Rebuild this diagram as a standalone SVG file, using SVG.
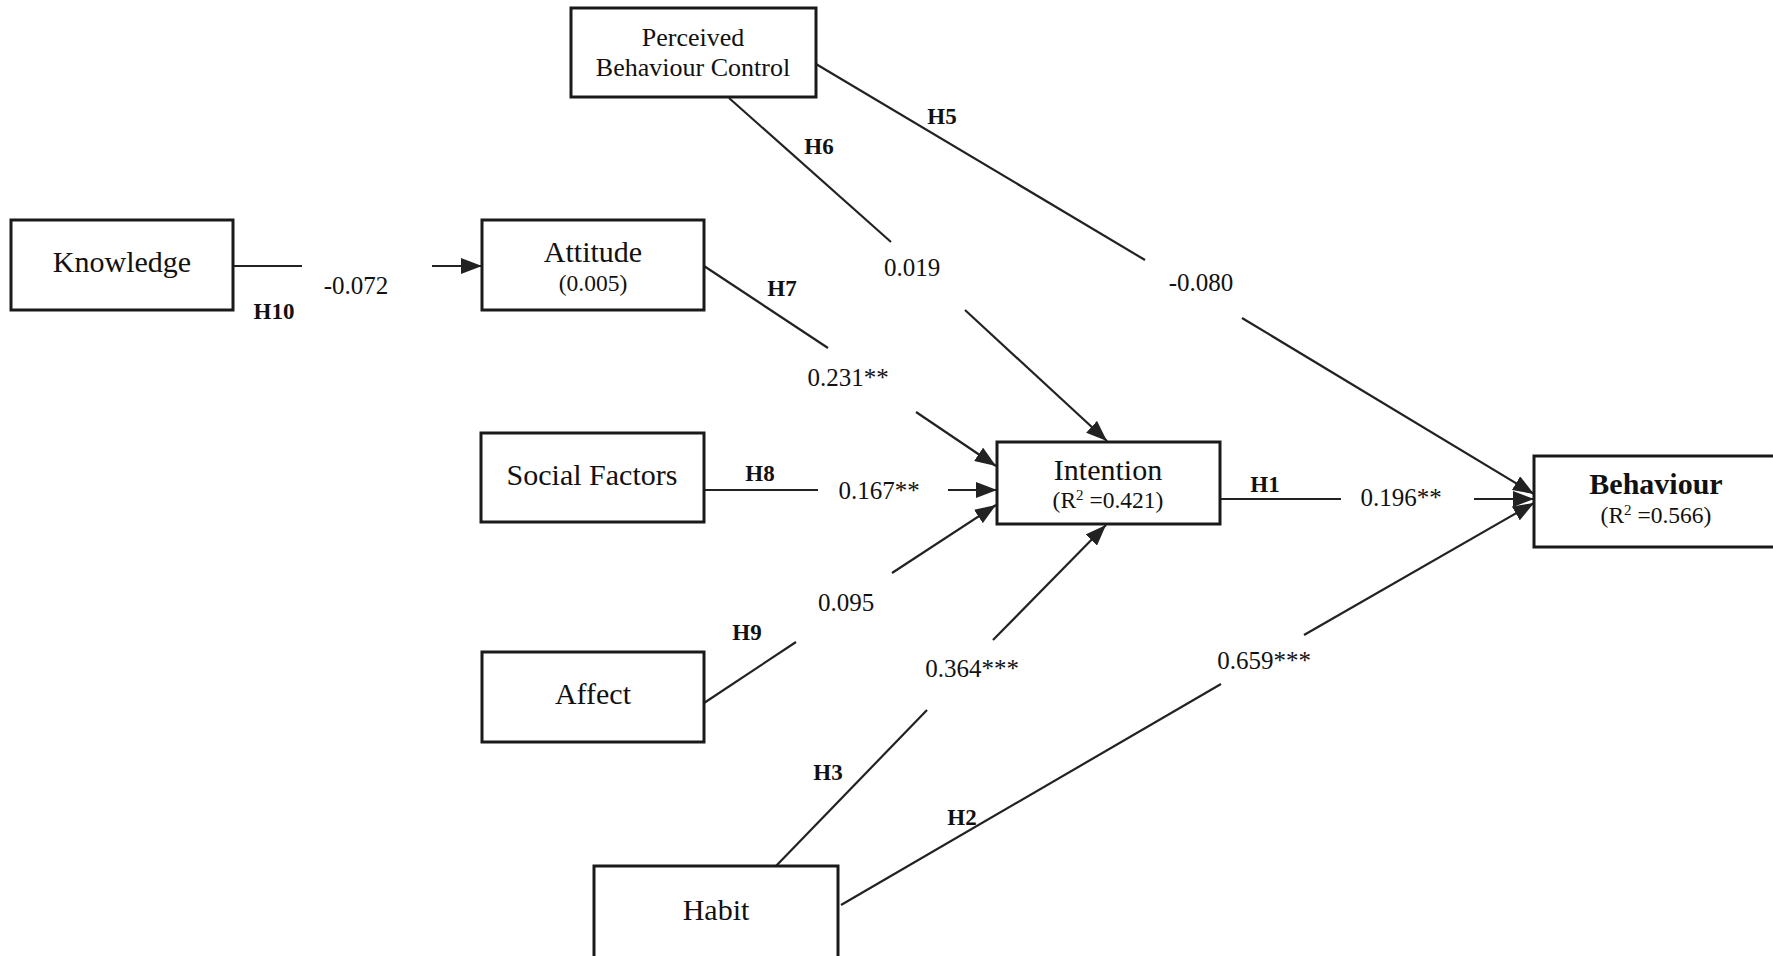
<svg xmlns="http://www.w3.org/2000/svg" width="1773" height="956" viewBox="0 0 1773 956">
  <style>
    .box { fill: #ffffff; stroke: #1a1a1a; stroke-width: 3; }
    .lbl { font-family: "Liberation Serif", "Times New Roman", serif; fill: #111; text-anchor: middle; }
    .main { font-size: 30px; }
    .pbc { font-size: 26px; }
    .sub { font-size: 23.5px; }
    .bold { font-weight: bold; }
    .coef { font-family: "Liberation Serif", "Times New Roman", serif; font-size: 25px; fill: #111; text-anchor: middle; }
    .hyp { font-family: "Liberation Serif", "Times New Roman", serif; font-size: 23px; font-weight: bold; fill: #111; text-anchor: middle; }
    .edge { stroke: #222; stroke-width: 2.2; fill: none; }
  </style>
  <defs>
    <marker id="arrow" markerUnits="userSpaceOnUse" markerWidth="22" markerHeight="16" refX="21" refY="8" orient="auto">
      <path d="M0,0 L21,8 L0,16 z" fill="#222"/>
    </marker>
  </defs>
  <rect width="1773" height="956" fill="#ffffff"/>

  <!-- connectors: each path is drawn in two pieces, broken where its coefficient sits -->
  <g id="connectors">
    <!-- H10 Knowledge -> Attitude -->
    <line class="edge" x1="233" y1="266" x2="302" y2="266"/>
    <line class="edge" x1="432" y1="266" x2="482" y2="266" marker-end="url(#arrow)"/>
    <!-- H6 PBC -> Intention -->
    <line class="edge" x1="729" y1="98" x2="891" y2="242"/>
    <line class="edge" x1="965" y1="310" x2="1107" y2="441" marker-end="url(#arrow)"/>
    <!-- H5 PBC -> Behaviour -->
    <line class="edge" x1="816" y1="64" x2="1145" y2="260"/>
    <line class="edge" x1="1242" y1="318" x2="1534" y2="494" marker-end="url(#arrow)"/>
    <!-- H7 Attitude -> Intention -->
    <line class="edge" x1="704" y1="266" x2="828" y2="348"/>
    <line class="edge" x1="916" y1="412" x2="996" y2="466" marker-end="url(#arrow)"/>
    <!-- H8 Social Factors -> Intention -->
    <line class="edge" x1="704" y1="490" x2="818" y2="490"/>
    <line class="edge" x1="948" y1="490" x2="997" y2="490" marker-end="url(#arrow)"/>
    <!-- H9 Affect -> Intention -->
    <line class="edge" x1="704" y1="703" x2="796" y2="642"/>
    <line class="edge" x1="892" y1="573" x2="996" y2="505" marker-end="url(#arrow)"/>
    <!-- H1 Intention -> Behaviour -->
    <line class="edge" x1="1220" y1="499" x2="1341" y2="499"/>
    <line class="edge" x1="1474" y1="499" x2="1534" y2="499" marker-end="url(#arrow)"/>
    <!-- H3 Habit -> Intention -->
    <line class="edge" x1="776" y1="866" x2="927" y2="710"/>
    <line class="edge" x1="993" y1="640" x2="1106" y2="525" marker-end="url(#arrow)"/>
    <!-- H2 Habit -> Behaviour -->
    <line class="edge" x1="841" y1="905" x2="1221" y2="684"/>
    <line class="edge" x1="1304" y1="635" x2="1534" y2="503" marker-end="url(#arrow)"/>

    <!-- path coefficients -->
    <text class="coef" x="356" y="294">-0.072</text>
    <text class="coef" x="912" y="276">0.019</text>
    <text class="coef" x="1201" y="291">-0.080</text>
    <text class="coef" x="848" y="386">0.231**</text>
    <text class="coef" x="879" y="499">0.167**</text>
    <text class="coef" x="846" y="611">0.095</text>
    <text class="coef" x="1401" y="506">0.196**</text>
    <text class="coef" x="972" y="677">0.364***</text>
    <text class="coef" x="1264" y="669">0.659***</text>

    <!-- hypothesis tags -->
    <text class="hyp" x="274" y="319">H10</text>
    <text class="hyp" x="819" y="154">H6</text>
    <text class="hyp" x="942" y="124">H5</text>
    <text class="hyp" x="782" y="296">H7</text>
    <text class="hyp" x="760" y="481">H8</text>
    <text class="hyp" x="747" y="640">H9</text>
    <text class="hyp" x="1265" y="492" font-weight="normal">H1</text>
    <text class="hyp" x="828" y="780">H3</text>
    <text class="hyp" x="962" y="825">H2</text>
  </g>

  <g id="knowledge">
    <rect class="box" x="11" y="220" width="222" height="90"/>
    <text class="lbl main" x="122" y="272">Knowledge</text>
  </g>
  <g id="attitude">
    <rect class="box" x="482" y="220" width="222" height="90"/>
    <text class="lbl main" x="593" y="262">Attitude</text>
    <text class="lbl sub" x="593" y="291">(0.005)</text>
  </g>
  <g id="pbc">
    <rect class="box" x="571" y="8" width="245" height="89"/>
    <text class="lbl pbc" x="693" y="46">Perceived</text>
    <text class="lbl pbc" x="693" y="76">Behaviour Control</text>
  </g>
  <g id="social-factors">
    <rect class="box" x="481" y="433" width="223" height="89"/>
    <text class="lbl main" x="592" y="485">Social Factors</text>
  </g>
  <g id="affect">
    <rect class="box" x="482" y="652" width="222" height="90"/>
    <text class="lbl main" x="593" y="704">Affect</text>
  </g>
  <g id="habit">
    <rect class="box" x="594" y="866" width="244" height="100"/>
    <text class="lbl main" x="716" y="920">Habit</text>
  </g>
  <g id="intention">
    <rect class="box" x="997" y="442" width="223" height="82"/>
    <text class="lbl main" x="1108" y="480">Intention</text>
    <text class="lbl sub" x="1108" y="508">(R<tspan font-size="15" dy="-8">2</tspan><tspan dy="8"> =0.421)</tspan></text>
  </g>
  <g id="behaviour">
    <rect class="box" x="1534" y="456" width="250" height="91"/>
    <text class="lbl main bold" x="1656" y="494">Behaviour</text>
    <text class="lbl sub" x="1656" y="523">(R<tspan font-size="15" dy="-8">2</tspan><tspan dy="8"> =0.566)</tspan></text>
  </g>
</svg>
